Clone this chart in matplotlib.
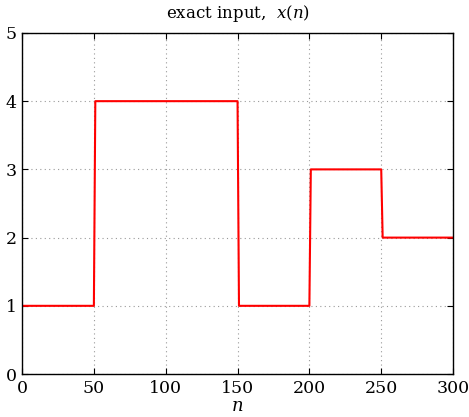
import numpy as np
import matplotlib
matplotlib.use('Agg')
import matplotlib.pyplot as plt

# 分段常数信号 x(n): 每段起点与取值
seg_start = [0, 51, 151, 201, 251]
seg_level = [1, 4, 1, 3, 2]
n_max = 300

xticks = [0, 50, 100, 150, 200, 250, 300]
yticks = [0, 1, 2, 3, 4, 5]

n = np.arange(0, n_max + 1)
x = np.zeros_like(n, dtype=float)
for s, v in zip(seg_start, seg_level):
    x[n >= s] = v

plt.rcParams['font.family'] = 'DejaVu Serif'
plt.rcParams['mathtext.fontset'] = 'dejavuserif'

fig = plt.figure(figsize=(4.69, 4.17), dpi=100)
ax = fig.add_axes([0.047, 0.103, 0.919, 0.818])

ax.plot(n, x, color='red', linewidth=1.5)

ax.set_xlim(0, 300)
ax.set_ylim(0, 5)
ax.set_xticks(xticks)
ax.set_yticks(yticks)
ax.tick_params(direction='in', top=True, right=True, labelsize=12.5, length=4, pad=4)
ax.grid(True, linestyle=(0, (1, 3)), color='#999999', linewidth=0.8)
for sp in ax.spines.values():
    sp.set_linewidth(1.0)

ax.set_title('exact input,  $x(n)$', fontsize=12, pad=11)
ax.set_xlabel('$n$', fontsize=13, labelpad=0)

fig.savefig('out.png', dpi=100)
